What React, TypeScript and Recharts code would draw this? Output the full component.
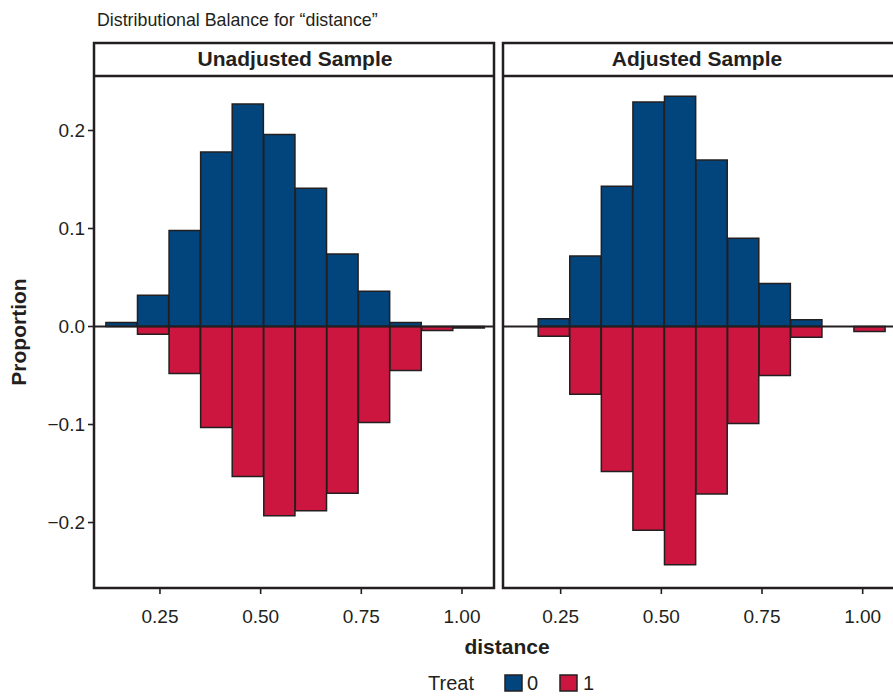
import { BarChart, Bar, XAxis, YAxis, ReferenceLine } from 'recharts';

// histogram bin centres on "distance"
const binCenters = [0.155, 0.2334, 0.3118, 0.3902, 0.4686, 0.547, 0.6254, 0.7038, 0.7822, 0.8606, 0.939, 1.0174];

// proportions per bin, treat 1 drawn downwards (negative)
const unadjTreat0 = [0.004, 0.032, 0.098, 0.178, 0.227, 0.196, 0.141, 0.074, 0.036, 0.004, 0, 0];
const unadjTreat1 = [0, -0.008, -0.048, -0.103, -0.153, -0.193, -0.188, -0.170, -0.098, -0.045, -0.004, -0.0015];
const adjTreat0 = [0, 0.008, 0.072, 0.143, 0.229, 0.235, 0.170, 0.090, 0.044, 0.007, 0, 0];
const adjTreat1 = [0, -0.010, -0.069, -0.148, -0.208, -0.243, -0.171, -0.099, -0.050, -0.011, 0, -0.005];

const xTicks = [0.25, 0.5, 0.75, 1.0];
const yTicks = [-0.2, -0.1, 0, 0.1, 0.2];
const BIN_WIDTH = 0.0784;

const BLUE = '#02457d';
const RED = '#cc163f';
const INK = '#231f20';
const FONT = '"Liberation Sans", Arial, Helvetica, sans-serif';

const Y_DOMAIN: [number, number] = [-0.2668, 0.2556];
const PLOT_W = 400;
const PLOT_H = 512;
const AXIS_H = 44;

const toRows = (t0: number[], t1: number[]) =>
  binCenters.map((x, i) => ({
    x,
    t0: t0[i] === 0 ? null : t0[i],
    t1: t1[i] === 0 ? null : t1[i],
  }));

const fmtY = (v: number) => v.toFixed(1).replace('-', '\u2212');

function Panel({ rows, domain, showY }: { rows: any[]; domain: [number, number]; showY: boolean }) {
  const yW = showY ? 94 : 0;
  // keep just under the band size, otherwise recharts shrinks bars to 90%
  const barSize = (BIN_WIDTH / (domain[1] - domain[0])) * PLOT_W - 0.4;
  return (
    <BarChart
      width={PLOT_W + yW}
      height={PLOT_H + AXIS_H}
      data={rows}
      stackOffset="sign"
      barCategoryGap="0%"
      barGap={0}
      margin={{ top: 0, right: 0, bottom: 0, left: 0 }}
    >
      <XAxis
        dataKey="x"
        type="number"
        domain={domain}
        allowDataOverflow
        ticks={xTicks}
        tickFormatter={(v: number) => v.toFixed(2)}
        axisLine={false}
        tickSize={6}
        tickMargin={16}
        tickLine={{ stroke: INK, strokeWidth: 1.6 }}
        tick={{ fill: INK, fontSize: 19, fontFamily: FONT }}
        height={AXIS_H}
      />
      <YAxis
        hide={!showY}
        width={yW}
        domain={Y_DOMAIN}
        allowDataOverflow
        ticks={yTicks}
        tickFormatter={fmtY}
        axisLine={false}
        tickSize={6}
        tickMargin={3}
        tickLine={{ stroke: INK, strokeWidth: 1.6 }}
        tick={{ fill: INK, fontSize: 19, fontFamily: FONT }}
      />
      <Bar dataKey="t0" stackId="s" fill={BLUE} stroke={INK} strokeWidth={1.5} barSize={barSize} isAnimationActive={false} />
      <Bar dataKey="t1" stackId="s" fill={RED} stroke={INK} strokeWidth={1.5} barSize={barSize} isAnimationActive={false} />
      <ReferenceLine y={0} stroke={INK} strokeWidth={2} />
    </BarChart>
  );
}

export default function App() {
  const unadj = toRows(unadjTreat0, unadjTreat1);
  const adj = toRows(adjTreat0, adjTreat1);
  return (
    <div
      style={{
        position: 'fixed',
        left: 0,
        top: 0,
        width: 893,
        height: 696,
        overflow: 'hidden',
        background: '#fff',
        fontFamily: FONT,
      }}
    >
      <div style={{ position: 'absolute', left: 0, top: 76 }}>
        <Panel rows={unadj} domain={[0.0862, 1.0795]} showY />
      </div>
      <div style={{ position: 'absolute', left: 503, top: 76 }}>
        <Panel rows={adj} domain={[0.1068, 1.1001]} showY={false} />
      </div>
      <svg
        width={893}
        height={696}
        style={{ position: 'absolute', left: 0, top: 0, pointerEvents: 'none' }}
        fontFamily={FONT}
      >
        <text x={97} y={26} fontSize={17.8} fill={INK}>
          Distributional Balance for {'\u201C'}distance{'\u201D'}
        </text>
        {/* panel frames and strips */}
        <rect x={94} y={43} width={400} height={545} fill="none" stroke={INK} strokeWidth={2.5} />
        <line x1={94} x2={494} y1={76} y2={76} stroke={INK} strokeWidth={2.5} />
        <text x={295} y={66} textAnchor="middle" fontSize={21} fontWeight="bold" fill={INK}>
          Unadjusted Sample
        </text>
        <rect x={503} y={43} width={400} height={545} fill="none" stroke={INK} strokeWidth={2.5} />
        <line x1={503} x2={903} y1={76} y2={76} stroke={INK} strokeWidth={2.5} />
        <text x={697} y={66} textAnchor="middle" fontSize={21} fontWeight="bold" fill={INK}>
          Adjusted Sample
        </text>
        {/* axis titles */}
        <text
          x={18}
          y={332}
          transform="rotate(-90 18 332)"
          textAnchor="middle"
          dominantBaseline="central"
          fontSize={21}
          fontWeight="bold"
          fill={INK}
        >
          Proportion
        </text>
        <text x={507} y={654} textAnchor="middle" fontSize={21} fontWeight="bold" fill={INK}>
          distance
        </text>
        {/* legend */}
        <text x={428} y={690} fontSize={20} fill={INK}>
          Treat
        </text>
        <rect x={505} y={675} width={17} height={16} fill={BLUE} stroke={INK} strokeWidth={1.5} />
        <text x={527} y={690} fontSize={20} fill={INK}>
          0
        </text>
        <rect x={560} y={675} width={17} height={16} fill={RED} stroke={INK} strokeWidth={1.5} />
        <text x={583} y={690} fontSize={20} fill={INK}>
          1
        </text>
      </svg>
    </div>
  );
}
